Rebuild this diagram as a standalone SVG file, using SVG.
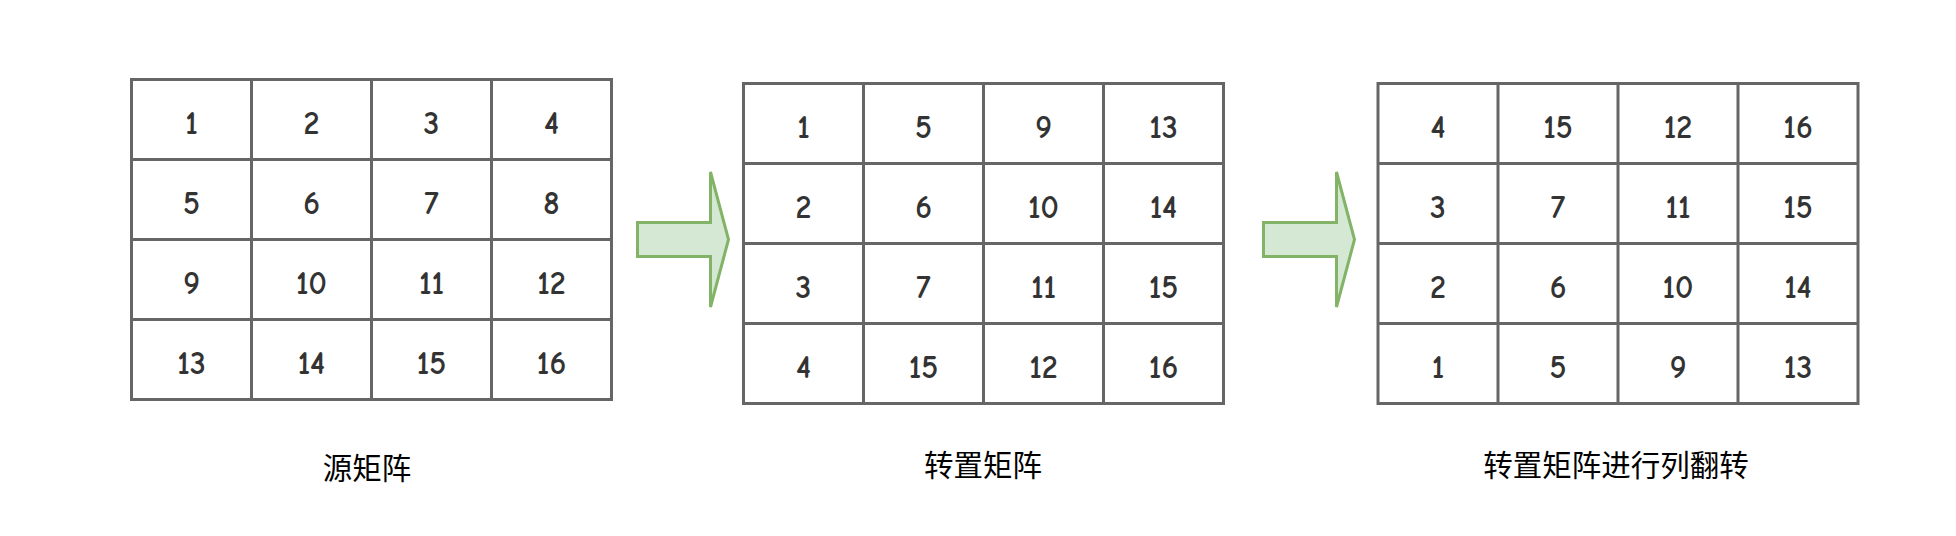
<svg xmlns="http://www.w3.org/2000/svg" width="1956" height="536" viewBox="0 0 1956 536">
<style>
.grid{fill:#ffffff;stroke:#666666;stroke-width:3}
.ln{stroke:#666666;stroke-width:3}
.num{font-family:"Comic Neue","Liberation Sans",Arial,sans-serif;font-size:32px;font-weight:700;fill:#333333;text-anchor:middle}
.lbl{font-family:"Noto Sans CJK SC","Liberation Sans",sans-serif;font-size:29.5px;fill:#000000;text-anchor:middle}
.arr{fill:#d5e8d4;stroke:#82b366;stroke-width:3}
</style>
<defs>
<g id="gridlines">
<rect class="grid" x="0" y="0" width="480" height="320"/>
<line class="ln" x1="120" y1="0" x2="120" y2="320"/>
<line class="ln" x1="240" y1="0" x2="240" y2="320"/>
<line class="ln" x1="360" y1="0" x2="360" y2="320"/>
<line class="ln" x1="0" y1="80" x2="480" y2="80"/>
<line class="ln" x1="0" y1="160" x2="480" y2="160"/>
<line class="ln" x1="0" y1="240" x2="480" y2="240"/>
</g>
</defs>
<g id="source-matrix" transform="translate(131.5,79.5)">
<use href="#gridlines"/>
<text class="num" x="60" y="54.5">1</text><text class="num" x="180" y="54.5">2</text><text class="num" x="300" y="54.5">3</text><text class="num" x="420" y="54.5">4</text>
<text class="num" x="60" y="134.5">5</text><text class="num" x="180" y="134.5">6</text><text class="num" x="300" y="134.5">7</text><text class="num" x="420" y="134.5">8</text>
<text class="num" x="60" y="214.5">9</text><text class="num" x="180" y="214.5">10</text><text class="num" x="300" y="214.5">11</text><text class="num" x="420" y="214.5">12</text>
<text class="num" x="60" y="294.5">13</text><text class="num" x="180" y="294.5">14</text><text class="num" x="300" y="294.5">15</text><text class="num" x="420" y="294.5">16</text>
</g>
<g id="transposed-matrix" transform="translate(743.5,83.5)">
<use href="#gridlines"/>
<text class="num" x="60" y="54.5">1</text><text class="num" x="180" y="54.5">5</text><text class="num" x="300" y="54.5">9</text><text class="num" x="420" y="54.5">13</text>
<text class="num" x="60" y="134.5">2</text><text class="num" x="180" y="134.5">6</text><text class="num" x="300" y="134.5">10</text><text class="num" x="420" y="134.5">14</text>
<text class="num" x="60" y="214.5">3</text><text class="num" x="180" y="214.5">7</text><text class="num" x="300" y="214.5">11</text><text class="num" x="420" y="214.5">15</text>
<text class="num" x="60" y="294.5">4</text><text class="num" x="180" y="294.5">15</text><text class="num" x="300" y="294.5">12</text><text class="num" x="420" y="294.5">16</text>
</g>
<g id="flipped-matrix" transform="translate(1378,83.5)">
<use href="#gridlines"/>
<text class="num" x="60" y="54.5">4</text><text class="num" x="180" y="54.5">15</text><text class="num" x="300" y="54.5">12</text><text class="num" x="420" y="54.5">16</text>
<text class="num" x="60" y="134.5">3</text><text class="num" x="180" y="134.5">7</text><text class="num" x="300" y="134.5">11</text><text class="num" x="420" y="134.5">15</text>
<text class="num" x="60" y="214.5">2</text><text class="num" x="180" y="214.5">6</text><text class="num" x="300" y="214.5">10</text><text class="num" x="420" y="214.5">14</text>
<text class="num" x="60" y="294.5">1</text><text class="num" x="180" y="294.5">5</text><text class="num" x="300" y="294.5">9</text><text class="num" x="420" y="294.5">13</text>
</g>
<g id="connectors">
<path class="arr" d="M637.5,222.5 H710.5 V172 L728.5,239.5 L710.5,307 V256.5 H637.5 Z"/>
<path class="arr" d="M1263.5,222.5 H1336.5 V172 L1354.5,239.5 L1336.5,307 V256.5 H1263.5 Z"/>
</g>
<g id="labels">
<text class="lbl" x="367" y="479">源矩阵</text>
<text class="lbl" x="983" y="476">转置矩阵</text>
<text class="lbl" x="1616" y="476">转置矩阵进行列翻转</text>
</g>
</svg>
